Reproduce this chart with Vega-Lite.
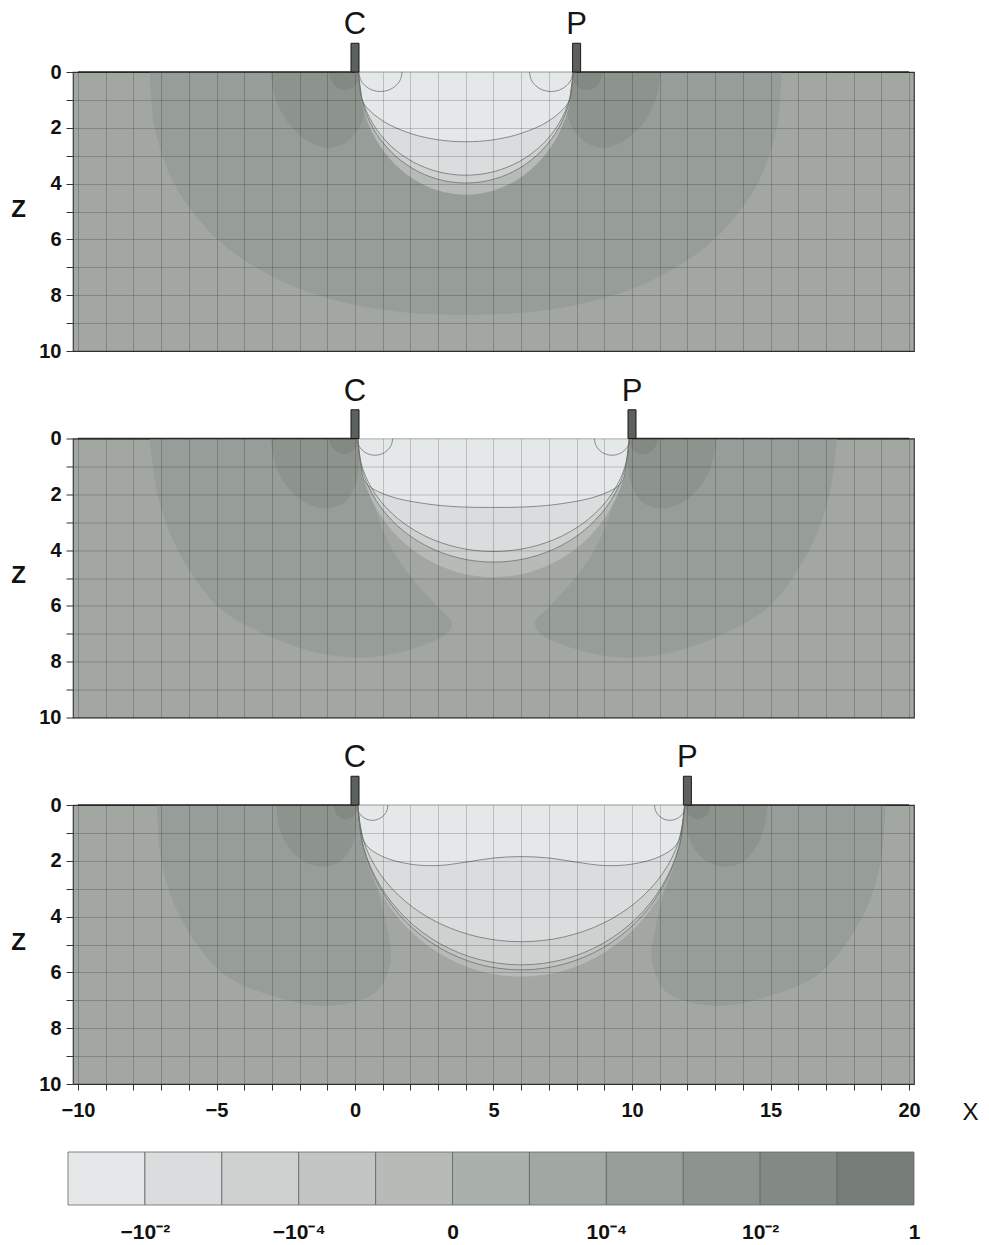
{
 "$schema": "https://vega.github.io/schema/vega-lite/v6.json",
 "background": "white",
 "padding": {"left": 10, "top": 8, "right": 2, "bottom": 2},
 "config": {"font": "Liberation Sans", "view": {"stroke": "#3a3a3a", "strokeWidth": 1.2, "fill": "#a2a7a2"}},
 "spacing": 27,
 "bounds": "full",
 "vconcat": [
  {
   "data": {"values": [
    {"p":1,"r":0,"id":"C","xs":[0],"zs":[0]},
    {"p":1,"r":0,"id":"P","xs":[8],"zs":[0]},
    {"p":1,"r":1,"id":"1","lv":8,"xs":[-7.4,-7.23,-6.53,-5.46,-4.35,-2.64,-0.65,1.66,4.0,6.34,8.65,10.64,12.35,13.46,14.53,15.23,15.4],"zs":[0,2,4,5.5,6.5,7.5,8.2,8.6,8.7,8.6,8.2,7.5,6.5,5.5,4,2,0]},
    {"p":1,"r":2,"id":"2L","lv":9,"xs":[-3.05,-2.85,-2.35,-1.65,-0.95,-0.3,0.15,0.35,0.3,0.1],"zs":[0,1.0,1.9,2.5,2.72,2.5,2.0,1.4,0.7,0]},
    {"p":1,"r":2,"id":"2R","lv":9,"xs":[11.05,10.85,10.35,9.65,8.95,8.3,7.85,7.65,7.7,7.9],"zs":[0,1.0,1.9,2.5,2.72,2.5,2.0,1.4,0.7,0]},
    {"p":1,"r":3,"id":"3L","lv":10,"xs":[-0.95,-0.8,-0.5,-0.15,0.1,0.12],"zs":[0,0.4,0.62,0.6,0.35,0]},
    {"p":1,"r":3,"id":"3R","lv":10,"xs":[8.95,8.8,8.5,8.15,7.9,7.88],"zs":[0,0.4,0.62,0.6,0.35,0]},
    {"p":1,"r":4,"id":"4","lv":5,"xs":[0.12,0.252,0.64,1.257,2.06,2.995,4.0,5.005,5.94,6.743,7.36,7.748,7.88],"zs":[0,1.14,2.2,3.111,3.81,4.25,4.4,4.25,3.81,3.111,2.2,1.14,0]},
    {"p":1,"r":5,"id":"5","lv":3,"xs":[0.12,0.252,0.64,1.257,2.06,2.995,4.0,5.005,5.94,6.743,7.36,7.748,7.88],"zs":[0,1.031,1.99,2.814,3.447,3.845,3.98,3.845,3.447,2.814,1.99,1.031,0]},
    {"p":1,"r":6,"id":"6","lv":2,"xs":[0.12,0.252,0.64,1.257,2.06,2.995,4.0,5.005,5.94,6.743,7.36,7.748,7.88],"zs":[0,0.958,1.85,2.616,3.204,3.574,3.7,3.574,3.204,2.616,1.85,0.958,0]},
    {"p":1,"r":8,"id":"8","lv":1,"xs":[0.12,0.2,0.3,1.0,2.0,3.0,4.0,5.0,6.0,7.0,7.7,7.8,7.88],"zs":[0,0.6,1.1,1.75,2.2,2.43,2.5,2.43,2.2,1.75,1.1,0.6,0]},
    {"p":1,"r":9,"id":"9L","lv":1,"xs":[0.14,0.199,0.369,0.621,0.92,1.219,1.471,1.641,1.7],"zs":[0,0.268,0.495,0.647,0.7,0.647,0.495,0.268,0]},
    {"p":1,"r":9,"id":"9R","lv":1,"xs":[6.3,6.359,6.529,6.781,7.08,7.379,7.631,7.801,7.86],"zs":[0,0.268,0.495,0.647,0.7,0.647,0.495,0.268,0]},

    {"p":2,"r":0,"id":"C","xs":[0],"zs":[0]},
    {"p":2,"r":0,"id":"P","xs":[10],"zs":[0]},
    {"p":2,"r":1,"id":"1L","lv":8,"xs":[-7.4,-7.13,-6.4,-4.97,-3.3,-1.4,0.4,2.2,3.3,3.5,3.0,2.3,1.6,1.1,0.8,0.3,0.05],"zs":[0,2,4,6,7,7.67,7.85,7.5,7.0,6.6,6.05,5.3,4.4,3.5,2.7,1.2,0]},
    {"p":2,"r":1,"id":"1R","lv":8,"xs":[17.4,17.13,16.4,14.97,13.3,11.4,9.6,7.8,6.7,6.5,7.0,7.7,8.4,8.9,9.2,9.7,9.95],"zs":[0,2,4,6,7,7.67,7.85,7.5,7.0,6.6,6.05,5.3,4.4,3.5,2.7,1.2,0]},
    {"p":2,"r":2,"id":"2L","lv":9,"xs":[-3.05,-2.85,-2.35,-1.7,-1.05,-0.4,0.0,0.15,0.05],"zs":[0,1.0,1.85,2.35,2.5,2.3,1.7,0.8,0]},
    {"p":2,"r":2,"id":"2R","lv":9,"xs":[13.05,12.85,12.35,11.7,11.05,10.4,10.0,9.85,9.95],"zs":[0,1.0,1.85,2.35,2.5,2.3,1.7,0.8,0]},
    {"p":2,"r":3,"id":"3L","lv":10,"xs":[-0.95,-0.8,-0.5,-0.15,0.05,0.08],"zs":[0,0.35,0.55,0.5,0.25,0]},
    {"p":2,"r":3,"id":"3R","lv":10,"xs":[10.95,10.8,10.5,10.15,9.95,9.92],"zs":[0,0.35,0.55,0.5,0.25,0]},
    {"p":2,"r":4,"id":"4","lv":5,"xs":[0.1,0.267,0.757,1.536,2.55,3.731,5.0,6.269,7.45,8.464,9.243,9.733,9.9],"zs":[0,1.287,2.485,3.514,4.304,4.801,4.97,4.801,4.304,3.514,2.485,1.287,0]},
    {"p":2,"r":5,"id":"5","lv":3,"xs":[0.1,0.267,0.757,1.536,2.55,3.731,5.0,6.269,7.45,8.464,9.243,9.733,9.9],"zs":[0,1.147,2.215,3.132,3.836,4.279,4.43,4.279,3.836,3.132,2.215,1.147,0]},
    {"p":2,"r":6,"id":"6","lv":2,"xs":[0.1,0.267,0.757,1.536,2.55,3.731,5.0,6.269,7.45,8.464,9.243,9.733,9.9],"zs":[0,1.049,2.025,2.863,3.507,3.912,4.05,3.912,3.507,2.863,2.025,1.049,0]},
    {"p":2,"r":8,"id":"8","lv":1,"xs":[0.1,0.2,0.4,1.2,2.5,3.75,5.0,6.25,7.5,8.8,9.6,9.8,9.9],"zs":[0,0.9,1.6,2.05,2.33,2.45,2.47,2.45,2.33,2.05,1.6,0.9,0]},
    {"p":2,"r":9,"id":"9L","lv":1,"xs":[0.08,0.129,0.267,0.475,0.72,0.965,1.172,1.311,1.36],"zs":[0,0.23,0.424,0.554,0.6,0.554,0.424,0.23,0]},
    {"p":2,"r":9,"id":"9R","lv":1,"xs":[8.64,8.689,8.827,9.035,9.28,9.525,9.732,9.871,9.92],"zs":[0,0.23,0.424,0.554,0.6,0.554,0.424,0.23,0]},

    {"p":3,"r":0,"id":"C","xs":[0],"zs":[0]},
    {"p":3,"r":0,"id":"P","xs":[12],"zs":[0]},
    {"p":3,"r":1,"id":"1L","lv":8,"xs":[-7.15,-6.98,-6.32,-4.78,-2.87,-0.96,0.7,1.18,1.3,1.15,0.95,0.6,0.2,0.05],"zs":[0,2.03,4.0,6.03,6.87,7.2,6.75,6.0,5.3,4.4,3.5,2.4,1.0,0]},
    {"p":3,"r":1,"id":"1R","lv":8,"xs":[19.15,18.98,18.32,16.78,14.87,12.96,11.3,10.82,10.7,10.85,11.05,11.4,11.8,11.95],"zs":[0,2.03,4.0,6.03,6.87,7.2,6.75,6.0,5.3,4.4,3.5,2.4,1.0,0]},
    {"p":3,"r":2,"id":"2L","lv":9,"xs":[-2.85,-2.7,-2.25,-1.7,-1.05,-0.45,-0.05,0.05,0.05],"zs":[0,0.9,1.7,2.1,2.2,1.95,1.3,0.5,0]},
    {"p":3,"r":2,"id":"2R","lv":9,"xs":[14.9,14.75,14.35,13.9,13.3,12.6,12.1,11.95,11.95],"zs":[0,0.9,1.7,2.1,2.2,1.95,1.3,0.5,0]},
    {"p":3,"r":3,"id":"3L","lv":10,"xs":[-0.8,-0.65,-0.35,-0.05,0.05,0.05],"zs":[0,0.35,0.52,0.4,0.15,0]},
    {"p":3,"r":3,"id":"3R","lv":10,"xs":[12.85,12.7,12.4,12.1,11.95,11.95],"zs":[0,0.35,0.52,0.4,0.15,0]},
    {"p":3,"r":4,"id":"4","lv":5,"xs":[0.1,0.301,0.891,1.829,3.05,4.472,6.0,7.528,8.95,10.171,11.109,11.699,11.9],"zs":[0,1.593,3.075,4.348,5.326,5.941,6.15,5.941,5.326,4.348,3.075,1.593,0]},
    {"p":3,"r":5,"id":"5","lv":4,"xs":[0.1,0.301,0.891,1.829,3.05,4.472,6.0,7.528,8.95,10.171,11.109,11.699,11.9],"zs":[0,1.531,2.955,4.178,5.118,5.709,5.91,5.709,5.118,4.178,2.955,1.531,0]},
    {"p":3,"r":6,"id":"6","lv":3,"xs":[0.1,0.301,0.891,1.829,3.05,4.472,6.0,7.528,8.95,10.171,11.109,11.699,11.9],"zs":[0,1.484,2.865,4.051,4.962,5.535,5.73,5.535,4.962,4.051,2.865,1.484,0]},
    {"p":3,"r":7,"id":"7","lv":2,"xs":[0.1,0.301,0.891,1.829,3.05,4.472,6.0,7.528,8.95,10.171,11.109,11.699,11.9],"zs":[0,1.269,2.45,3.464,4.243,4.733,4.9,4.733,4.243,3.464,2.45,1.269,0]},
    {"p":3,"r":8,"id":"8","lv":1,"xs":[0.1,0.2,0.4,1.0,2.0,3.0,4.0,5.0,6.0,7.0,8.0,9.0,10.0,11.0,11.6,11.8,11.9],"zs":[0,0.8,1.43,1.85,2.12,2.17,2.05,1.9,1.85,1.9,2.05,2.17,2.12,1.85,1.43,0.8,0]},
    {"p":3,"r":9,"id":"9L","lv":1,"xs":[0.07,0.113,0.234,0.416,0.63,0.844,1.026,1.147,1.19],"zs":[0,0.211,0.389,0.508,0.55,0.508,0.389,0.211,0]},
    {"p":3,"r":9,"id":"9R","lv":1,"xs":[10.81,10.853,10.974,11.156,11.37,11.584,11.766,11.887,11.93],"zs":[0,0.211,0.389,0.508,0.55,0.508,0.389,0.211,0]}
   ]},
   "transform": [
    {"flatten": ["xs", "zs"], "as": ["x", "z"]},
    {"window": [{"op": "row_number", "as": "k"}], "groupby": ["p", "id"]}
   ],
   "facet": {"row": {"field": "p", "type": "ordinal", "title": null, "header": {"labels": false, "title": null, "labelPadding": 0, "titlePadding": 0}}},
   "spacing": {"row": 87.5},
   "bounds": "flush",
   "spec": {
    "width": 841,
    "height": 279,
    "encoding": {
     "x": {"field": "x", "type": "quantitative", "scale": {"domain": [-10, 20], "nice": false, "zero": false},
       "axis": {"values": [-10,-9,-8,-7,-6,-5,-4,-3,-2,-1,0,1,2,3,4,5,6,7,8,9,10,11,12,13,14,15,16,17,18,19,20],
        "grid": true, "zindex": 1, "gridColor": "#000000", "gridOpacity": 0.19, "gridWidth": 1,
        "domain": false, "tickSize": 6, "tickColor": "#333333", "tickWidth": 1,
        "labelExpr": "datum.value % 5 === 0 ? (datum.value < 0 ? '−' + abs(datum.value) : '' + datum.value) : ''",
        "labelFontSize": 20, "labelFontWeight": "bold", "labelColor": "#111111", "labelPadding": 10,
        "labelOverlap": false, "labelFlush": false,
        "title": "X", "titleX": 897, "titleY": 28, "titleBaseline": "middle", "titleAlign": "center",
        "titleFontSize": 24, "titleFontWeight": "normal", "titleColor": "#111111"}},
     "y": {"field": "z", "type": "quantitative", "scale": {"domain": [0, 10], "reverse": true, "nice": false, "zero": false},
       "axis": {"values": [0,1,2,3,4,5,6,7,8,9,10],
        "grid": true, "zindex": 1, "gridColor": "#000000", "gridOpacity": 0.19, "gridWidth": 1,
        "domain": false, "tickSize": 7, "tickColor": "#333333", "tickWidth": 1,
        "labelExpr": "datum.value % 2 === 0 ? '' + datum.value : ''",
        "labelFontSize": 20, "labelFontWeight": "bold", "labelColor": "#111111", "labelPadding": 5,
        "labelOverlap": false, "labelFlush": false,
        "title": "Z", "titleAngle": 0, "titleX": -55, "titleY": 137, "titleBaseline": "middle", "titleAlign": "center",
        "titleFontSize": 24, "titleFontWeight": "bold", "titleColor": "#111111"}}
    },
    "layer": [
     {"transform": [{"filter": "datum.r == 1"}], "mark": {"type": "line", "interpolate": "catmull-rom", "strokeWidth": 0, "strokeOpacity": 0},
      "encoding": {"order": {"field": "k", "type": "quantitative"}, "detail": {"field": "id", "type": "nominal"},
       "fill": {"field": "lv", "type": "ordinal", "legend": null, "scale": {"domain": [1,2,3,4,5,6,7,8,9,10,11], "range": ["#e5e8e9","#d9dddd","#cdd1d0","#c1c6c4","#b6bbb8","#aab0ac","#a1a7a2","#979d98","#8d938d","#838983","#767c76"]}}}},
     {"transform": [{"filter": "datum.r == 2"}], "mark": {"type": "line", "interpolate": "catmull-rom", "strokeWidth": 0, "strokeOpacity": 0},
      "encoding": {"order": {"field": "k", "type": "quantitative"}, "detail": {"field": "id", "type": "nominal"},
       "fill": {"field": "lv", "type": "ordinal", "legend": null, "scale": {"domain": [1,2,3,4,5,6,7,8,9,10,11], "range": ["#e5e8e9","#d9dddd","#cdd1d0","#c1c6c4","#b6bbb8","#aab0ac","#a1a7a2","#979d98","#8d938d","#838983","#767c76"]}}}},
     {"transform": [{"filter": "datum.r == 3"}], "mark": {"type": "line", "interpolate": "catmull-rom", "strokeWidth": 0, "strokeOpacity": 0},
      "encoding": {"order": {"field": "k", "type": "quantitative"}, "detail": {"field": "id", "type": "nominal"},
       "fill": {"field": "lv", "type": "ordinal", "legend": null, "scale": {"domain": [1,2,3,4,5,6,7,8,9,10,11], "range": ["#e5e8e9","#d9dddd","#cdd1d0","#c1c6c4","#b6bbb8","#aab0ac","#a1a7a2","#979d98","#8d938d","#838983","#767c76"]}}}},
     {"transform": [{"filter": "datum.r == 4"}], "mark": {"type": "line", "interpolate": "catmull-rom", "strokeWidth": 0, "strokeOpacity": 0},
      "encoding": {"order": {"field": "k", "type": "quantitative"}, "detail": {"field": "id", "type": "nominal"},
       "fill": {"field": "lv", "type": "ordinal", "legend": null, "scale": {"domain": [1,2,3,4,5,6,7,8,9,10,11], "range": ["#e5e8e9","#d9dddd","#cdd1d0","#c1c6c4","#b6bbb8","#aab0ac","#a1a7a2","#979d98","#8d938d","#838983","#767c76"]}}}},
     {"transform": [{"filter": "datum.r == 5"}], "mark": {"type": "line", "interpolate": "catmull-rom", "strokeWidth": 0, "strokeOpacity": 0},
      "encoding": {"order": {"field": "k", "type": "quantitative"}, "detail": {"field": "id", "type": "nominal"},
       "fill": {"field": "lv", "type": "ordinal", "legend": null, "scale": {"domain": [1,2,3,4,5,6,7,8,9,10,11], "range": ["#e5e8e9","#d9dddd","#cdd1d0","#c1c6c4","#b6bbb8","#aab0ac","#a1a7a2","#979d98","#8d938d","#838983","#767c76"]}}}},
     {"transform": [{"filter": "datum.r == 6"}], "mark": {"type": "line", "interpolate": "catmull-rom", "strokeWidth": 0, "strokeOpacity": 0},
      "encoding": {"order": {"field": "k", "type": "quantitative"}, "detail": {"field": "id", "type": "nominal"},
       "fill": {"field": "lv", "type": "ordinal", "legend": null, "scale": {"domain": [1,2,3,4,5,6,7,8,9,10,11], "range": ["#e5e8e9","#d9dddd","#cdd1d0","#c1c6c4","#b6bbb8","#aab0ac","#a1a7a2","#979d98","#8d938d","#838983","#767c76"]}}}},
     {"transform": [{"filter": "datum.r == 7"}], "mark": {"type": "line", "interpolate": "catmull-rom", "strokeWidth": 0, "strokeOpacity": 0},
      "encoding": {"order": {"field": "k", "type": "quantitative"}, "detail": {"field": "id", "type": "nominal"},
       "fill": {"field": "lv", "type": "ordinal", "legend": null, "scale": {"domain": [1,2,3,4,5,6,7,8,9,10,11], "range": ["#e5e8e9","#d9dddd","#cdd1d0","#c1c6c4","#b6bbb8","#aab0ac","#a1a7a2","#979d98","#8d938d","#838983","#767c76"]}}}},
     {"transform": [{"filter": "datum.r == 8"}], "mark": {"type": "line", "interpolate": "catmull-rom", "strokeWidth": 0, "strokeOpacity": 0},
      "encoding": {"order": {"field": "k", "type": "quantitative"}, "detail": {"field": "id", "type": "nominal"},
       "fill": {"field": "lv", "type": "ordinal", "legend": null, "scale": {"domain": [1,2,3,4,5,6,7,8,9,10,11], "range": ["#e5e8e9","#d9dddd","#cdd1d0","#c1c6c4","#b6bbb8","#aab0ac","#a1a7a2","#979d98","#8d938d","#838983","#767c76"]}}}},
     {"transform": [{"filter": "datum.r == 9"}], "mark": {"type": "line", "interpolate": "catmull-rom", "strokeWidth": 0, "strokeOpacity": 0},
      "encoding": {"order": {"field": "k", "type": "quantitative"}, "detail": {"field": "id", "type": "nominal"},
       "fill": {"field": "lv", "type": "ordinal", "legend": null, "scale": {"domain": [1,2,3,4,5,6,7,8,9,10,11], "range": ["#e5e8e9","#d9dddd","#cdd1d0","#c1c6c4","#b6bbb8","#aab0ac","#a1a7a2","#979d98","#8d938d","#838983","#767c76"]}}}},
     {"transform": [{"filter": "datum.r >= 5"}], "mark": {"type": "line", "interpolate": "catmull-rom", "stroke": "#6a6f6b", "strokeWidth": 0.9, "strokeOpacity": 0.85},
      "encoding": {"order": {"field": "k", "type": "quantitative"}, "detail": {"field": "id", "type": "nominal"}}},
     {"transform": [{"filter": "datum.r == 0 && datum.id == 'C'"}], "mark": {"type": "rule", "color": "#2e2e2e", "strokeWidth": 1.6},
      "encoding": {"x": {"datum": -10}, "x2": {"field": "x"}, "y": {"datum": 0}}},
     {"transform": [{"filter": "datum.r == 0 && datum.id == 'P'"}], "mark": {"type": "rule", "color": "#2e2e2e", "strokeWidth": 1.6},
      "encoding": {"x2": {"datum": 20}, "y": {"datum": 0}}},
     {"transform": [{"filter": "datum.r == 0"}], "mark": {"type": "bar", "size": 8, "fill": "#5d615d", "stroke": "#1a1a1a", "strokeWidth": 1},
      "encoding": {"y": {"datum": -1.03}, "y2": {"datum": 0}}},
     {"transform": [{"filter": "datum.r == 0"}], "mark": {"type": "text", "fontSize": 31, "baseline": "alphabetic", "align": "center", "color": "#151515", "font": "Liberation Sans"},
      "encoding": {"y": {"datum": -1.36}, "text": {"field": "id"}}}
    ]
   }
  },
  {
   "width": 841,
   "height": 53,
   "view": {"stroke": "transparent", "fill": "transparent"},
   "data": {"values": [
    {"lo":0,"hi":1,"lv":1},{"lo":1,"hi":2,"lv":2},{"lo":2,"hi":3,"lv":3},{"lo":3,"hi":4,"lv":4},
    {"lo":4,"hi":5,"lv":5},{"lo":5,"hi":6,"lv":6},{"lo":6,"hi":7,"lv":7},{"lo":7,"hi":8,"lv":8},
    {"lo":8,"hi":9,"lv":9},{"lo":9,"hi":10,"lv":10},{"lo":10,"hi":11,"lv":11}
   ]},
   "mark": {"type": "rect", "stroke": "#626762", "strokeWidth": 0.8},
   "encoding": {
    "x": {"field": "lo", "type": "quantitative", "scale": {"domain": [0.065, 11], "nice": false, "zero": false},
     "axis": {"values": [1,3,5,7,9,11], "labelExpr": "['','−10⁻²','','−10⁻⁴','','0','','10⁻⁴','','10⁻²','','1'][datum.value]",
      "domain": false, "ticks": false, "tickSize": 0, "grid": false, "title": null,
      "labelFontSize": 21, "labelFontWeight": "bold", "labelPadding": 16, "labelColor": "#111111", "labelFlush": false, "labelOverlap": false}},
    "x2": {"field": "hi"},
    "fill": {"field": "lv", "type": "ordinal", "legend": null, "scale": {"domain": [1,2,3,4,5,6,7,8,9,10,11], "range": ["#e5e8e9","#d9dddd","#cdd1d0","#c1c6c4","#b6bbb8","#aab0ac","#a1a7a2","#979d98","#8d938d","#838983","#767c76"]}}
   }
  }
 ]
}
